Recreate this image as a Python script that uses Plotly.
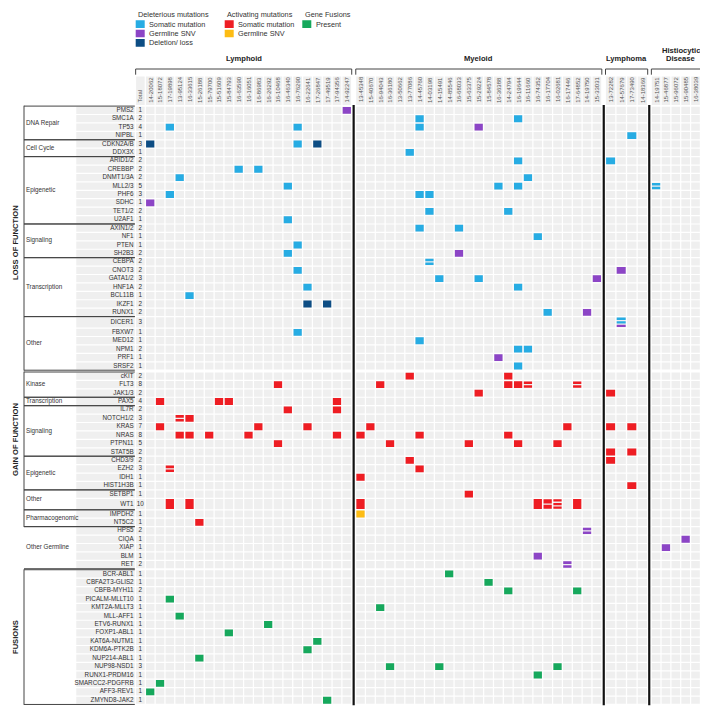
import plotly.graph_objects as go

FONT = "Liberation Sans, Arial, Helvetica, sans-serif"

# ---------------- data ----------------
lymphoid = ["14-20062", "15-18072", "17-19898", "13-95124", "16-33615", "15-26188", "15-79700",
            "15-51609", "15-84793", "16-63590", "16-16051", "16-86983", "16-26292", "16-10468",
            "16-46340", "16-76290", "16-22641", "17-26847", "17-49519", "17-94356", "14-92247"]
myeloid = ["13-45348", "15-40670", "16-94043", "16-36180", "13-50662", "13-77086", "14-45760",
           "14-03198", "14-15491", "14-85546", "16-68033", "15-63375", "15-29224", "15-84578",
           "16-36388", "14-24794", "16-19644", "16-11660", "16-74352", "16-17704", "16-02681",
           "16-17446", "17-64852", "14-19750", "15-33031"]
lymphoma = ["13-72282", "14-57679", "17-73490", "14-18369"]
histiocytic = ["14-19751", "15-46877", "15-96072", "15-90485", "16-38039", "17-13525"]
group_names = ["Lymphoid", "Myeloid", "Lymphoma", "Histiocytic Disease"]
group_samples = [lymphoid, myeloid, lymphoma, histiocytic]

section_names = ["LOSS OF FUNCTION", "GAIN OF FUNCTION", "FUSIONS"]
# (section index, category label, genes)
categories = [
    (0, "DNA Repair", ["PMS2", "SMC1A", "TP53", "NIPBL"]),
    (0, "Cell Cycle", ["CDKN2A/B", "DDX3X"]),
    (0, "Epigenetic", ["ARID1/2", "CREBBP", "DNMT1/3A", "MLL2/3", "PHF6", "SDHC", "TET1/2", "U2AF1"]),
    (0, "Signaling", ["AXIN1/2", "NF1", "PTEN", "SH2B3"]),
    (0, "Transcription", ["CEBPA", "CNOT3", "GATA1/2", "HNF1A", "BCL11B", "IKZF1", "RUNX1"]),
    (0, "Other", ["DICER1", "FBXW7", "MED12", "NPM1", "PRF1", "SRSF2"]),
    (1, "Kinase", ["cKIT", "FLT3", "JAK1/3"]),
    (1, "Transcription", ["PAX5"]),
    (1, "Signaling", ["IL7R", "NOTCH1/2", "KRAS", "NRAS", "PTPN11", "STAT5B"]),
    (1, "Epigenetic", ["CHD3/9", "EZH2", "IDH1", "HIST1H3B"]),
    (1, "Other", ["SETBP1", "WT1"]),
    (1, "Pharmacogenomic", ["IMPDH2", "NT5C2"]),
    (1, "Other Germline", ["HPS5", "CIQA", "XIAP", "BLM", "RET"]),
    (2, "", ["BCR-ABL1", "CBFA2T3-GLIS2", "CBFB-MYH11", "PICALM-MLLT10", "KMT2A-MLLT3", "MLL-AFF1",
             "ETV6-RUNX1", "FOXP1-ABL1", "KAT6A-NUTM1", "KDM6A-PTK2B", "NUP214-ABL1", "NUP98-NSD1",
             "RUNX1-PRDM16", "SMARCC2-PDGFRB", "AFF3-REV1", "ZMYND8-JAK2"]),
]
totals = [1, 2, 4, 1, 3, 1, 2, 2, 2, 5, 3, 1, 2, 1, 2, 1, 1, 2, 2, 2, 3, 2, 1, 2, 2, 3, 1, 1, 2, 1, 1,
          2, 8, 2, 4, 2, 3, 7, 8, 5, 2, 2, 3, 1, 1, 1, 10, 1, 1, 2, 1, 1, 1, 2,
          1, 1, 2, 1, 1, 1, 1, 1, 1, 1, 1, 3, 1, 1, 1, 1]

# hit codes: S somatic deleterious, G germline SNV (deleterious), D deletion/loss,
# A activating somatic, Y activating germline SNV, F fusion; repeated letters = multiple hits
hits = [
    ("PMS2", "14-92247", "G"),
    ("SMC1A", "14-45760", "S"), ("SMC1A", "16-19644", "S"),
    ("TP53", "17-19898", "S"), ("TP53", "16-76290", "S"), ("TP53", "14-45760", "S"), ("TP53", "15-29224", "G"),
    ("NIPBL", "17-73490", "S"),
    ("CDKN2A/B", "14-20062", "D"), ("CDKN2A/B", "16-76290", "S"), ("CDKN2A/B", "17-26847", "D"),
    ("DDX3X", "13-77086", "S"),
    ("ARID1/2", "16-19644", "S"), ("ARID1/2", "13-72282", "S"),
    ("CREBBP", "16-63590", "S"), ("CREBBP", "16-86983", "S"),
    ("DNMT1/3A", "13-95124", "S"), ("DNMT1/3A", "16-11660", "S"),
    ("MLL2/3", "16-46340", "S"), ("MLL2/3", "16-36388", "S"), ("MLL2/3", "16-19644", "S"), ("MLL2/3", "14-19751", "SS"),
    ("PHF6", "17-19898", "S"), ("PHF6", "14-45760", "S"), ("PHF6", "14-03198", "S"),
    ("SDHC", "14-20062", "G"),
    ("TET1/2", "14-03198", "S"), ("TET1/2", "14-24794", "S"),
    ("U2AF1", "16-46340", "S"),
    ("AXIN1/2", "14-45760", "S"), ("AXIN1/2", "16-68033", "S"),
    ("NF1", "16-74352", "S"),
    ("PTEN", "16-76290", "S"),
    ("SH2B3", "16-46340", "S"), ("SH2B3", "16-68033", "G"),
    ("CEBPA", "14-03198", "SS"),
    ("CNOT3", "16-76290", "S"), ("CNOT3", "14-57679", "G"),
    ("GATA1/2", "14-15491", "S"), ("GATA1/2", "15-29224", "S"), ("GATA1/2", "15-33031", "G"),
    ("HNF1A", "16-22641", "S"), ("HNF1A", "16-19644", "S"),
    ("BCL11B", "16-33615", "S"),
    ("IKZF1", "16-22641", "D"), ("IKZF1", "17-49519", "D"),
    ("RUNX1", "16-17704", "S"), ("RUNX1", "14-19750", "G"),
    ("DICER1", "14-57679", "SSG"),
    ("FBXW7", "16-76290", "S"),
    ("MED12", "14-45760", "S"),
    ("NPM1", "16-19644", "S"), ("NPM1", "16-11660", "S"),
    ("PRF1", "16-36388", "G"),
    ("SRSF2", "16-19644", "S"),
    ("cKIT", "13-77086", "A"), ("cKIT", "14-24794", "A"),
    ("FLT3", "16-10468", "A"), ("FLT3", "16-94043", "A"), ("FLT3", "14-24794", "A"), ("FLT3", "16-19644", "A"),
    ("FLT3", "16-11660", "AA"), ("FLT3", "17-64852", "AA"),
    ("JAK1/3", "15-29224", "A"), ("JAK1/3", "13-72282", "A"),
    ("PAX5", "15-18072", "A"), ("PAX5", "15-51609", "A"), ("PAX5", "15-84793", "A"), ("PAX5", "17-94356", "A"),
    ("IL7R", "16-46340", "A"), ("IL7R", "17-94356", "A"),
    ("NOTCH1/2", "13-95124", "AA"), ("NOTCH1/2", "16-33615", "A"),
    ("KRAS", "15-18072", "A"), ("KRAS", "16-86983", "A"), ("KRAS", "16-22641", "A"), ("KRAS", "15-40670", "A"),
    ("KRAS", "16-17446", "A"), ("KRAS", "13-72282", "A"), ("KRAS", "17-73490", "A"),
    ("NRAS", "13-95124", "A"), ("NRAS", "16-33615", "A"), ("NRAS", "15-79700", "A"), ("NRAS", "16-16051", "A"),
    ("NRAS", "17-94356", "A"), ("NRAS", "13-45348", "A"), ("NRAS", "14-45760", "A"), ("NRAS", "14-24794", "A"),
    ("PTPN11", "16-10468", "A"), ("PTPN11", "16-36180", "A"), ("PTPN11", "15-63375", "A"),
    ("PTPN11", "16-19644", "A"), ("PTPN11", "16-02681", "A"),
    ("STAT5B", "13-72282", "A"), ("STAT5B", "17-73490", "A"),
    ("CHD3/9", "13-77086", "A"), ("CHD3/9", "13-72282", "A"),
    ("EZH2", "17-19898", "AA"), ("EZH2", "14-45760", "A"),
    ("IDH1", "13-45348", "A"),
    ("HIST1H3B", "17-73490", "A"),
    ("SETBP1", "15-63375", "A"),
    ("WT1", "17-19898", "A"), ("WT1", "16-33615", "A"), ("WT1", "13-45348", "A"), ("WT1", "16-74352", "A"),
    ("WT1", "16-17704", "AA"), ("WT1", "16-02681", "AAA"), ("WT1", "17-64852", "A"),
    ("IMPDH2", "13-45348", "Y"),
    ("NT5C2", "15-26188", "A"),
    ("HPS5", "14-19750", "GG"),
    ("CIQA", "15-90485", "G"),
    ("XIAP", "15-46877", "G"),
    ("BLM", "16-74352", "G"),
    ("RET", "16-17446", "GG"),
    ("BCR-ABL1", "14-85546", "F"),
    ("CBFA2T3-GLIS2", "15-84578", "F"),
    ("CBFB-MYH11", "14-24794", "F"), ("CBFB-MYH11", "17-64852", "F"),
    ("PICALM-MLLT10", "17-19898", "F"),
    ("KMT2A-MLLT3", "16-94043", "F"),
    ("MLL-AFF1", "13-95124", "F"),
    ("ETV6-RUNX1", "16-26292", "F"),
    ("FOXP1-ABL1", "15-84793", "F"),
    ("KAT6A-NUTM1", "17-26847", "F"),
    ("KDM6A-PTK2B", "16-22641", "F"),
    ("NUP214-ABL1", "15-26188", "F"),
    ("NUP98-NSD1", "16-36180", "F"), ("NUP98-NSD1", "14-15491", "F"), ("NUP98-NSD1", "16-02681", "F"),
    ("RUNX1-PRDM16", "16-74352", "F"),
    ("SMARCC2-PDGFRB", "15-18072", "F"),
    ("AFF3-REV1", "14-20062", "F"),
    ("ZMYND8-JAK2", "17-49519", "F"),
]

legend_groups = [
    ("Deleterious mutations", [("S", "Somatic mutation"), ("G", "Germline SNV"), ("D", "Deletion/ loss")]),
    ("Activating mutations", [("A", "Somatic mutation"), ("Y", "Germline SNV")]),
    ("Gene Fusions", [("F", "Present")]),
]

# ---------------- style ----------------
COLORS = {"S": "#27ACE3", "G": "#8C45C6", "D": "#0D4D84", "A": "#EE1D23", "Y": "#FDBC14", "F": "#16A85C"}
GREY = "#EFEFEF"
TXT = "#333333"
W, H = 708, 706
PITCH = [9.83, 9.85, 10.6, 9.85]
X_FIRST = 142.2
GROUP_STEP = 13.7
ROW_H, TALL_H, TOP = 8.42, 11.5, 98.1
SECTION_GAP = [1.8, 1.0, 0.0]
SECTION_LABEL_Y = [235.0, 432.0, 629.0]
GAP_X, GAP_Y = 1.25, 1.2
LABEL_L, LABEL_R, BRACKET_X = 68.3, 126.8, 16.0
HEAD_Y0, HEAD_Y1 = 68.6, 96.9

# ---------------- geometry ----------------
col_x, col_p = {}, {}
group_first, group_last = [], []
x = X_FIRST
for gi, samples in enumerate(group_samples):
    if gi > 0:
        x = group_last[-1] + GROUP_STEP
    for j, s in enumerate(samples):
        col_x[s] = x + j * PITCH[gi]
        col_p[s] = PITCH[gi]
    group_first.append(col_x[samples[0]])
    group_last.append(col_x[samples[-1]])
total_x = X_FIRST - PITCH[0]

maxk = {}
for g, s, code in hits:
    maxk[g] = max(maxk.get(g, 0), len(code))

genes, row_top, row_c, row_h = [], {}, {}, {}
cat_span = []
sec_span = {}
y = TOP
for ci, (si, cat, glist) in enumerate(categories):
    y0 = y
    for g in glist:
        h = TALL_H if maxk.get(g, 0) >= 3 else ROW_H
        genes.append(g)
        row_top[g], row_h[g], row_c[g] = y, h, y + h / 2
        y += h
    cat_span.append((si, cat, y0, y))
    a, b = sec_span.get(si, (y0, y))
    sec_span[si] = (min(a, y0), max(b, y))
    if ci == len(categories) - 1 or categories[ci + 1][0] != si:
        y += SECTION_GAP[si]


def add_rect(xs, ys, x0, x1, y0, y1):
    xs += [x0, x1, x1, x0, x0, None]
    ys += [y0, y0, y1, y1, y0, None]


fig = go.Figure()

# grey background cells
gx, gy = [], []
for g in genes:
    yt, h = row_top[g], row_h[g]
    for s in col_x:
        add_rect(gx, gy, col_x[s] - (col_p[s] - GAP_X) / 2, col_x[s] + (col_p[s] - GAP_X) / 2,
                 yt + GAP_Y / 2, yt + h - GAP_Y / 2)
    add_rect(gx, gy, total_x - (PITCH[0] - GAP_X) / 2, total_x + (PITCH[0] - GAP_X) / 2,
             yt + GAP_Y / 2, yt + h - GAP_Y / 2)
    add_rect(gx, gy, LABEL_L, LABEL_R, yt + GAP_Y / 2, yt + h - GAP_Y / 2)
for s in list(col_x) + ["Total"]:
    cx, p = (col_x[s], col_p[s]) if s != "Total" else (total_x, PITCH[0])
    add_rect(gx, gy, cx - (p - GAP_X) / 2, cx + (p - GAP_X) / 2, HEAD_Y0, HEAD_Y1)
fig.add_trace(go.Scatter(x=gx, y=gy, mode="lines", fill="toself", fillcolor=GREY,
                         line=dict(width=0), hoverinfo="skip", showlegend=False))

# coloured hits
shapes_by_code = {k: ([], []) for k in COLORS}
for g, s, code in hits:
    cx, p = col_x[s], col_p[s]
    x0, x1 = cx - (p - 1.6) / 2, cx + (p - 1.6) / 2
    yt = row_top[g] + 0.8
    hh = row_h[g] - 1.6
    k = len(code)
    if k == 1:
        add_rect(*shapes_by_code[code], x0, x1, yt, yt + hh)
    else:
        inner = hh - 0.4
        gap = 1.3
        sh = (inner - (k - 1) * gap) / k
        for i, c in enumerate(code):
            a = yt + 0.2 + i * (sh + gap)
            add_rect(*shapes_by_code[c], x0, x1, a, a + sh)

# legend swatches
LEG_X = [127.7, 216.7, 294.3]
LEG_Y = [16.2, 25.5, 34.8]
for li, (title, items) in enumerate(legend_groups):
    for ii, (code, lab) in enumerate(items):
        add_rect(*shapes_by_code[code], LEG_X[li], LEG_X[li] + 9, LEG_Y[ii] - 3.85, LEG_Y[ii] + 3.85)

for code, (xs, ys) in shapes_by_code.items():
    fig.add_trace(go.Scatter(x=xs, y=ys, mode="lines", fill="toself", fillcolor=COLORS[code],
                             line=dict(width=0), hoverinfo="skip", showlegend=False))

# thin structural lines (left brackets, group brackets)
lx, ly = [], []
for si, (a, b) in sec_span.items():
    if si == 1:
        b = [c for c in cat_span if c[0] == 1][-2][3]  # Other Germline has no bracket
    lx += [BRACKET_X, BRACKET_X, None]
    ly += [a - 0.4, b + 0.4, None]
for si, cat, a, b in cat_span:
    for yy in (a, b):
        lx += [BRACKET_X, LABEL_R, None]
        ly += [yy, yy, None]
for gi in range(4):
    left = (total_x if gi == 0 else group_first[gi]) - 0.48 * PITCH[gi]
    right = group_last[gi] + 0.5 * PITCH[gi]
    lx += [left, left, right, right, None]
    ly += [66.7, 61.0, 61.0, 66.7, None]
fig.add_trace(go.Scatter(x=lx, y=ly, mode="lines", line=dict(color="#444444", width=1),
                         hoverinfo="skip", showlegend=False))

# thick group dividers
dx, dy = [], []
for gi in range(3):
    xm = (group_last[gi] + group_first[gi + 1]) / 2
    dx += [xm, xm, None]
    dy += [TOP - 1.2, y + 0.8, None]
fig.add_trace(go.Scatter(x=dx, y=dy, mode="lines", line=dict(color="#111111", width=2.2),
                         hoverinfo="skip", showlegend=False))

# gene names and totals
fig.add_trace(go.Scatter(x=[LABEL_R - 1.2] * len(genes), y=[row_c[g] for g in genes], mode="text",
                         text=genes, textposition="middle left",
                         textfont=dict(family=FONT, size=6.3, color=TXT), hoverinfo="skip", showlegend=False))
fig.add_trace(go.Scatter(x=[total_x] * len(genes), y=[row_c[g] for g in genes], mode="text",
                         text=[str(t) for t in totals], textposition="middle center",
                         textfont=dict(family=FONT, size=6.3, color=TXT), hoverinfo="skip", showlegend=False))
# category labels
fig.add_trace(go.Scatter(x=[BRACKET_X + 2] * len(cat_span), y=[(a + b) / 2 for _, _, a, b in cat_span],
                         mode="text", text=[c for _, c, _, _ in cat_span], textposition="middle right",
                         textfont=dict(family=FONT, size=6.3, color=TXT), hoverinfo="skip", showlegend=False))

ann = []
# section labels
for si, name in enumerate(section_names):
    ann.append(dict(x=7, y=SECTION_LABEL_Y[si], text="<b>%s</b>" % name, textangle=-90, showarrow=False,
                    font=dict(family=FONT, size=7.6, color="#222222"), xanchor="center", yanchor="middle"))
# column labels
for s in ["Total"] + list(col_x):
    cx = total_x if s == "Total" else col_x[s]
    ann.append(dict(x=cx, y=HEAD_Y1 - 0.3, text=s, textangle=-90, showarrow=False,
                    font=dict(family=FONT, size=6, color="#555555"), xanchor="center", yanchor="bottom"))
# group labels
for gi, name in enumerate(group_names):
    left = (total_x if gi == 0 else group_first[gi]) - 0.48 * PITCH[gi]
    right = group_last[gi] + 0.5 * PITCH[gi]
    words = name.split(" ")
    lines = [name] if len(words) == 1 else words
    for li, t in enumerate(lines):
        yy = 50.0 - (len(lines) - 1 - li) * 7.8
        ann.append(dict(x=(left + right) / 2, y=yy, text="<b>%s</b>" % t, showarrow=False,
                        font=dict(family=FONT, size=7.6, color="#222222"), xanchor="center", yanchor="middle"))
# legend text
for li, (title, items) in enumerate(legend_groups):
    ann.append(dict(x=LEG_X[li] + 0.5, y=6.0, text=title, showarrow=False, xanchor="left", yanchor="middle",
                    font=dict(family=FONT, size=7.3, color=TXT)))
    for ii, (code, lab) in enumerate(items):
        ann.append(dict(x=LEG_X[li] + 11.3, y=LEG_Y[ii], text=lab, showarrow=False, xanchor="left",
                        yanchor="middle", font=dict(family=FONT, size=7.3, color=TXT)))

fig.update_layout(
    width=W, height=H, margin=dict(l=0, r=0, t=0, b=0),
    paper_bgcolor="white", plot_bgcolor="white",
    xaxis=dict(range=[0, W], visible=False, fixedrange=True),
    yaxis=dict(range=[H, 0], visible=False, fixedrange=True),
    annotations=ann, showlegend=False,
)
fig.write_html("out.html")
